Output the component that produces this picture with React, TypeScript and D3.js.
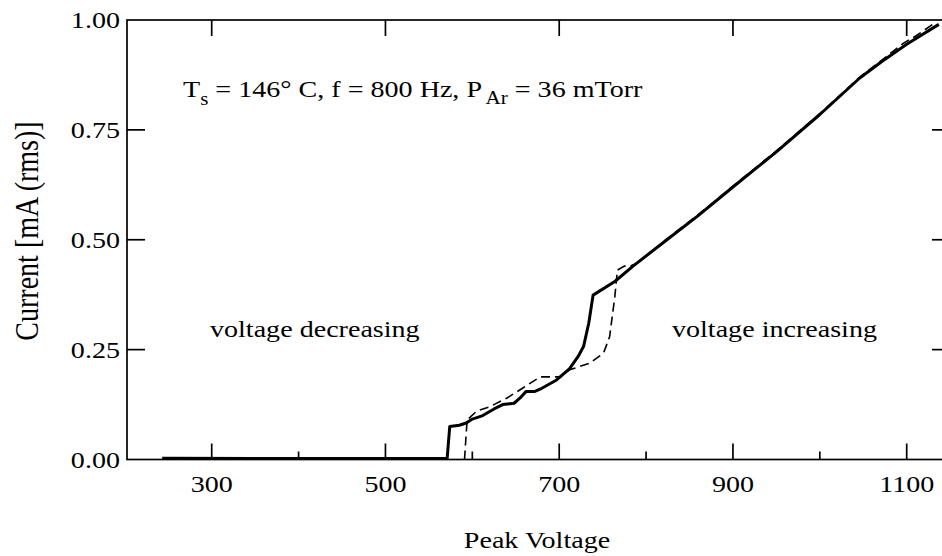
import {useEffect, useRef} from "react";
import * as d3 from "d3";

// peak voltage (V) and current (mA rms)
const decVoltage = [243, 400, 500, 571, 574, 585, 593, 600, 612, 625, 635, 648, 655, 662, 672, 680, 697, 712, 722, 728, 734, 739, 764, 785, 824, 860, 900, 950, 1000, 1046, 1071, 1100, 1137]
const decCurrent = [0.003, 0.002, 0.002, 0.002, 0.075, 0.078, 0.083, 0.092, 0.1, 0.115, 0.125, 0.128, 0.14, 0.155, 0.155, 0.162, 0.181, 0.207, 0.235, 0.257, 0.31, 0.374, 0.405, 0.44, 0.5, 0.555, 0.62, 0.7, 0.785, 0.868, 0.905, 0.945, 0.99]

const incVoltage = [591, 594, 605, 620, 640, 660, 678, 701, 712, 735, 751, 758, 764, 767, 775, 782, 790, 824, 860, 900, 950, 1000, 1046, 1071, 1085, 1096, 1110, 1130]
const incCurrent = [0.0, 0.09, 0.11, 0.12, 0.14, 0.165, 0.188, 0.188, 0.204, 0.219, 0.242, 0.279, 0.37, 0.431, 0.44, 0.44, 0.447, 0.502, 0.557, 0.622, 0.702, 0.787, 0.87, 0.908, 0.93, 0.947, 0.963, 0.99]

const xMajor = [300, 500, 700, 900, 1100]
const xMinor = [400, 600, 800, 1000]
const yTicks = [0, 0.25, 0.5, 0.75, 1]

const font = "'Liberation Serif', 'Times New Roman', serif"
const stretch = 1.17   // the scanned type is wider than Times

const App = () => {
    const ref = useRef<SVGSVGElement>(null)

    useEffect(() => {
        const svg = d3.select(ref.current)
        svg.selectAll("*").remove()

        const left = 127, right = 950, top = 20, bottom = 459.5
        const xScale = d3.scaleLinear().domain([300, 1100]).range([211.7, 906.7])
        const yScale = d3.scaleLinear().domain([0, 1]).range([bottom, top])

        const frame = svg.append("g").attr("stroke", "#000").attr("stroke-width", 1.7).attr("fill", "none")
        frame.append("rect").attr("x", left).attr("y", top).attr("width", right - left).attr("height", bottom - top)

        // x ticks: major on bottom and top, minor on bottom
        xMajor.forEach(v => {
            frame.append("line").attr("x1", xScale(v)).attr("x2", xScale(v)).attr("y1", bottom).attr("y2", bottom - 16)
            frame.append("line").attr("x1", xScale(v)).attr("x2", xScale(v)).attr("y1", top).attr("y2", top + 16)
        })
        xMinor.forEach(v => {
            frame.append("line").attr("x1", xScale(v)).attr("x2", xScale(v)).attr("y1", bottom).attr("y2", bottom - 8)
        })
        yTicks.slice(1, 4).forEach(v => {
            frame.append("line").attr("x1", left).attr("x2", left + 18).attr("y1", yScale(v)).attr("y2", yScale(v))
            frame.append("line").attr("x1", right).attr("x2", right - 18).attr("y1", yScale(v)).attr("y2", yScale(v))
        })

        const text = svg.append("g").attr("font-family", font).attr("fill", "#000").attr("font-size", 24)
        const label = (x: number, y: number, anchor: string, s: string) =>
            text.append("text")
                .attr("transform", `translate(${x},${y}) scale(${stretch},1)`)
                .attr("text-anchor", anchor)
                .text(s)

        xMajor.forEach(v => label(xScale(v), 491.5, "middle", String(v)))
        yTicks.forEach(v => label(120, yScale(v) + 8, "end", d3.format(".2f")(v)))

        label(537, 548, "middle", "Peak Voltage")

        text.append("text")
            .attr("transform", `translate(37.5, 231) rotate(-90) scale(1, ${stretch})`)
            .attr("text-anchor", "middle").attr("font-size", 28)
            .text("Current [mA (rms)]")

        const note = text.append("text").attr("transform", `translate(183, 97) scale(${stretch},1)`)
        note.append("tspan").text("T")
        note.append("tspan").attr("dy", 8).attr("font-size", 18).text("s")
        note.append("tspan").attr("dy", -8).text(" = 146° C, f = 800 Hz, P")
        note.append("tspan").attr("dy", 7).attr("dx", 3).attr("font-size", 18).text("Ar")
        note.append("tspan").attr("dy", -7).text(" = 36 mTorr")

        label(210, 337, "start", "voltage decreasing")
        label(672, 337, "start", "voltage increasing")

        const line = d3.line<[number, number]>()
            .x(d => xScale(d[0]))
            .y(d => yScale(d[1]))

        svg.append("path")
            .datum(incVoltage.map((v, i) => [v, incCurrent[i]] as [number, number]))
            .attr("d", line)
            .attr("fill", "none").attr("stroke", "#000").attr("stroke-width", 1.6)
            .attr("stroke-dasharray", "9,5")

        svg.append("path")
            .datum(decVoltage.map((v, i) => [v, decCurrent[i]] as [number, number]))
            .attr("d", line)
            .attr("fill", "none").attr("stroke", "#000").attr("stroke-width", 3)
            .attr("stroke-linejoin", "round")
    }, [])

    return (
        <svg ref={ref} width={942} height={556}
             style={{position: "absolute", left: 0, top: 0, background: "#fff"}}/>
    )
}

export default App
